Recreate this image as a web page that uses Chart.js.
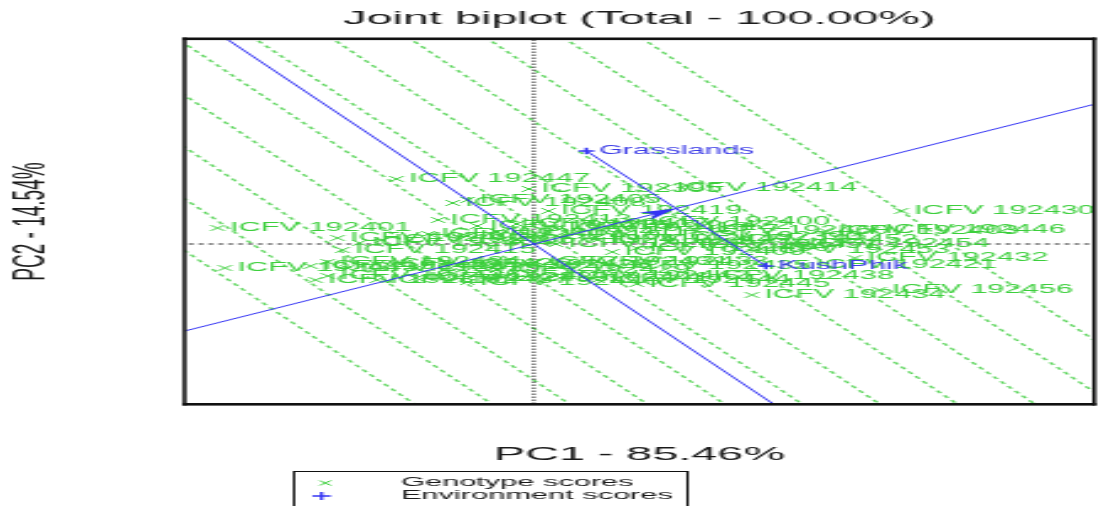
<!DOCTYPE html>
<html>
<head>
<meta charset="utf-8">
<script src="https://cdn.jsdelivr.net/npm/chart.js@4.4.1/dist/chart.umd.min.js"></script>
<style>
  html, body { margin: 0; padding: 0; background: #fff; overflow: hidden; width: 1107px; height: 506px; }
  /* the biplot is laid out on a narrow canvas and widened to the page */
  #wrap { position: absolute; left: 0; top: 0; width: 450px; height: 506px; transform: scaleX(2.46); transform-origin: 0 0; }
</style>
</head>
<body>
<div id="wrap"><canvas id="biplot"></canvas></div>
<script>
// ---- scores ----
const genotypeNames = [
  'ICFV 192430', 'ICFV 192401', 'ICFV 192447', 'ICFV 192414', 'ICFV 192395', 'ICFV 192419',
  'ICFV 192408', 'ICFV 192405', 'ICFV 192400', 'ICFV 192446', 'ICFV 192460', 'ICFV 192403',
  'ICFV 192432', 'ICFV 192421', 'ICFV 192434', 'ICFV 192456', 'ICFV 192438', 'ICFV 192409',
  'ICFV 192390', 'ICFV 192415', 'ICFV 192376', 'ICFV 192443',
  'ICFV 192402', 'ICFV 192404', 'ICFV 192406', 'ICFV 192407', 'ICFV 192410', 'ICFV 192411',
  'ICFV 192412', 'ICFV 192413', 'ICFV 192416', 'ICFV 192417', 'ICFV 192418', 'ICFV 192422',
  'ICFV 192423', 'ICFV 192424', 'ICFV 192425', 'ICFV 192426', 'ICFV 192427', 'ICFV 192428',
  'ICFV 192429', 'ICFV 192431', 'ICFV 192433', 'ICFV 192435', 'ICFV 192436', 'ICFV 192437',
  'ICFV 192439', 'ICFV 192440', 'ICFV 192441', 'ICFV 192442', 'ICFV 192444', 'ICFV 192445',
  'ICFV 192448', 'ICFV 192449', 'ICFV 192450', 'ICFV 192451', 'ICFV 192452', 'ICFV 192453',
  'ICFV 192454'
];
const genotypePC1 = [
  1.50, -1.29, -0.56, 0.53, -0.02, 0.06,
  -0.33, -0.27, 0.42, 1.38, 0.66, 1.19,
  1.31, 1.10, 0.89, 1.41, 0.68, 0.32,
  0.55, -0.78, -0.89, -1.26,
  -0.80, -0.71, -0.62, -0.43, -0.27, -0.15,
  -0.07, -0.39, -0.23, -0.07, 0.09, 0.26,
  -0.91, -0.84, -0.76, -0.64, -0.48, -0.31,
  -0.15, 0.01, 0.17, 0.34, -0.84, -0.64,
  -0.48, -0.27, -0.07, 0.09, 0.26, 0.42,
  0.09, 0.26, 0.42, 0.62, 0.78, 0.91,
  1.07
];
const genotypePC2 = [
  0.33, 0.16, 0.65, 0.56, 0.55, 0.33,
  0.41, 0.44, 0.22, 0.14, 0.13, 0.13,
  -0.14, -0.21, -0.51, -0.46, -0.32, -0.08,
  0.07, -0.06, -0.36, -0.24,
  0.06, 0.01, 0.04, 0.10, 0.08, 0.12,
  0.04, 0.24, 0.18, 0.20, 0.16, 0.18,
  -0.22, -0.18, -0.24, -0.20, -0.24, -0.21,
  -0.26, -0.18, -0.18, -0.22, -0.32, -0.36,
  -0.34, -0.38, -0.34, -0.32, -0.36, -0.40,
  0.00, 0.04, -0.04, -0.01, 0.04, -0.06,
  0.00
];
const environmentNames = ['Grasslands', 'KushPhik'];
const environmentPC1 = [0.215, 0.947];
const environmentPC2 = [0.93, -0.22];

// positions (along the average-environment axis) of the dashed guide lines
const guideOffsets = [-1.25, -0.98, -0.71, -0.44, -0.17, 0.10, 0.37, 0.64, 0.91, 1.18, 1.45];

const pc1Range = [-1.423, 2.285];
const pc2Range = [-1.6, 2.05];

const chartTitle = 'Joint biplot (Total - 100.00%)';
const pc1Title = 'PC1 - 85.46%';
const pc2Title = 'PC2 - 14.54%';
const legendLabels = ['Genotype scores', 'Environment scores'];

// ---- styling ----
const GREEN = '#3ccf3c';
const GUIDE_GREEN = 'rgba(80,210,80,0.9)';
const BLUE = '#3434f4';
const FONT = "'Liberation Sans', Arial, Helvetica, sans-serif";

// average environment direction and its perpendicular
const meanEnv = {
  x: environmentPC1.reduce((a, b) => a + b, 0) / environmentPC1.length,
  y: environmentPC2.reduce((a, b) => a + b, 0) / environmentPC2.length
};
const meanLen = Math.hypot(meanEnv.x, meanEnv.y);
const axisDir = { x: meanEnv.x / meanLen, y: meanEnv.y / meanLen };
const perpDir = { x: axisDir.y, y: -axisDir.x };
const FAR = 10;

function lineThrough(p, d) {
  return [{ x: p.x - FAR * d.x, y: p.y - FAR * d.y }, { x: p.x + FAR * d.x, y: p.y + FAR * d.y }];
}

const datasets = [];

guideOffsets.forEach(t => {
  datasets.push({
    data: lineThrough({ x: t * axisDir.x, y: t * axisDir.y }, perpDir),
    showLine: true, pointRadius: 0, borderColor: GUIDE_GREEN, borderWidth: 1.3,
    borderDash: [3, 2.6], order: 9
  });
});

// dotted reference axes through the origin
datasets.push({
  data: [{ x: 0, y: -FAR }, { x: 0, y: FAR }], showLine: true, pointRadius: 0,
  borderColor: '#222', borderWidth: 1, borderDash: [1.5, 1.5], order: 8
});
datasets.push({
  data: [{ x: -FAR, y: 0 }, { x: FAR, y: 0 }], showLine: true, pointRadius: 0,
  borderColor: '#222', borderWidth: 1, borderDash: [2, 2], order: 8
});

// genotype scores
datasets.push({
  data: genotypePC1.map((x, i) => ({ x, y: genotypePC2[i] })),
  pointStyle: 'crossRot', pointRadius: 4, pointBorderWidth: 1,
  borderColor: GREEN, backgroundColor: GREEN, showLine: false, order: 5,
  pointLabels: genotypeNames, labelColor: GREEN, labelGap: 5
});

// average environment axis and its ordinate
datasets.push({
  data: lineThrough({ x: 0, y: 0 }, axisDir), showLine: true, pointRadius: 0,
  borderColor: BLUE, borderWidth: 1, order: 2
});
datasets.push({
  data: lineThrough({ x: 0, y: 0 }, perpDir), showLine: true, pointRadius: 0,
  borderColor: BLUE, borderWidth: 1, order: 2
});
// segment joining the environments
datasets.push({
  data: environmentPC1.map((x, i) => ({ x, y: environmentPC2[i] })), showLine: true, pointRadius: 0,
  borderColor: BLUE, borderWidth: 1, order: 2
});
// environment scores
datasets.push({
  data: environmentPC1.map((x, i) => ({ x, y: environmentPC2[i] })),
  pointStyle: 'cross', pointRadius: 3.2, pointBorderWidth: 1.4,
  borderColor: BLUE, backgroundColor: BLUE, showLine: false, order: 1,
  pointLabels: environmentNames, labelColor: '#3c3ce6', labelGap: 5
});

const pointLabelPlugin = {
  id: 'pointLabels',
  afterDatasetDraw(chart, args) {
    const ds = chart.data.datasets[args.index];
    if (!ds.pointLabels) return;
    const ctx = chart.ctx, a = chart.chartArea;
    ctx.save();
    ctx.beginPath();
    ctx.rect(a.left, a.top, a.right - a.left, a.bottom - a.top);
    ctx.clip();
    ctx.font = '12.5px ' + FONT;
    ctx.fillStyle = ds.labelColor;
    ctx.textAlign = 'left';
    ctx.textBaseline = 'middle';
    args.meta.data.forEach((pt, i) => ctx.fillText(ds.pointLabels[i], pt.x + ds.labelGap, pt.y));
    ctx.restore();
  }
};

const decorPlugin = {
  id: 'decor',
  afterDraw(chart) {
    const ctx = chart.ctx, a = chart.chartArea;
    const sx = chart.scales.x, sy = chart.scales.y;
    ctx.save();

    // arrow head at the average environment
    const tipX = sx.getPixelForValue(meanEnv.x), tipY = sy.getPixelForValue(meanEnv.y);
    const ox = sx.getPixelForValue(0), oy = sy.getPixelForValue(0);
    const len = Math.hypot(tipX - ox, tipY - oy);
    const ux = (tipX - ox) / len, uy = (tipY - oy) / len;
    const L = 15, W = 4.4, N = 10.5;
    ctx.fillStyle = BLUE;
    ctx.beginPath();
    ctx.moveTo(tipX, tipY);
    ctx.lineTo(tipX - L * ux - W * uy, tipY - L * uy + W * ux);
    ctx.lineTo(tipX - N * ux, tipY - N * uy);
    ctx.lineTo(tipX - L * ux + W * uy, tipY - L * uy - W * ux);
    ctx.closePath();
    ctx.fill();

    // plot frame
    ctx.fillStyle = '#111';
    ctx.fillRect(a.left - 1, a.top - 1.5, a.right - a.left + 2, 2.6);
    ctx.fillRect(a.left - 1, a.bottom - 1, a.right - a.left + 2, 2.6);
    ctx.fillRect(a.left - 1, a.top - 1.5, 1.6, a.bottom - a.top + 3);
    ctx.fillRect(a.right - 0.6, a.top - 1.5, 1.6, a.bottom - a.top + 3);

    // titles
    const cx = (a.left + a.right) / 2;
    ctx.fillStyle = '#1a1a1a';
    ctx.textAlign = 'center';
    ctx.textBaseline = 'middle';
    ctx.font = '19px ' + FONT;
    ctx.fillText(chartTitle, cx, 19);
    ctx.fillText(pc1Title, cx, 455);
    ctx.save();
    ctx.translate(12.5, (a.top + a.bottom) / 2);
    ctx.rotate(-Math.PI / 2);
    ctx.fillText(pc2Title, 0, 0);
    ctx.restore();

    // legend box
    ctx.strokeStyle = '#111';
    ctx.lineWidth = 1;
    ctx.strokeRect(119.5, 471.5, 160, 50);
    ctx.strokeStyle = GREEN;
    ctx.beginPath();
    ctx.moveTo(130, 480.5); ctx.lineTo(134.5, 485.5);
    ctx.moveTo(134.5, 480.5); ctx.lineTo(130, 485.5);
    ctx.stroke();
    ctx.strokeStyle = BLUE;
    ctx.lineWidth = 1.3;
    ctx.beginPath();
    ctx.moveTo(127, 496); ctx.lineTo(134.5, 496);
    ctx.moveTo(130.7, 492); ctx.lineTo(130.7, 500);
    ctx.stroke();
    ctx.fillStyle = '#1a1a1a';
    ctx.textAlign = 'left';
    ctx.font = '12.5px ' + FONT;
    ctx.fillText(legendLabels[0], 163, 483);
    ctx.fillText(legendLabels[1], 163, 496);

    ctx.restore();
  }
};

new Chart(document.getElementById('biplot'), {
  type: 'scatter',
  data: { datasets },
  options: {
    responsive: true,
    maintainAspectRatio: false,
    animation: false,
    events: [],
    layout: { padding: { left: 75.2, right: 4.1, top: 39, bottom: 102 } },
    plugins: { legend: { display: false }, tooltip: { enabled: false }, title: { display: false } },
    scales: {
      x: { type: 'linear', min: pc1Range[0], max: pc1Range[1], display: false },
      y: { type: 'linear', min: pc2Range[0], max: pc2Range[1], display: false }
    }
  },
  plugins: [pointLabelPlugin, decorPlugin]
});
</script>
</body>
</html>
